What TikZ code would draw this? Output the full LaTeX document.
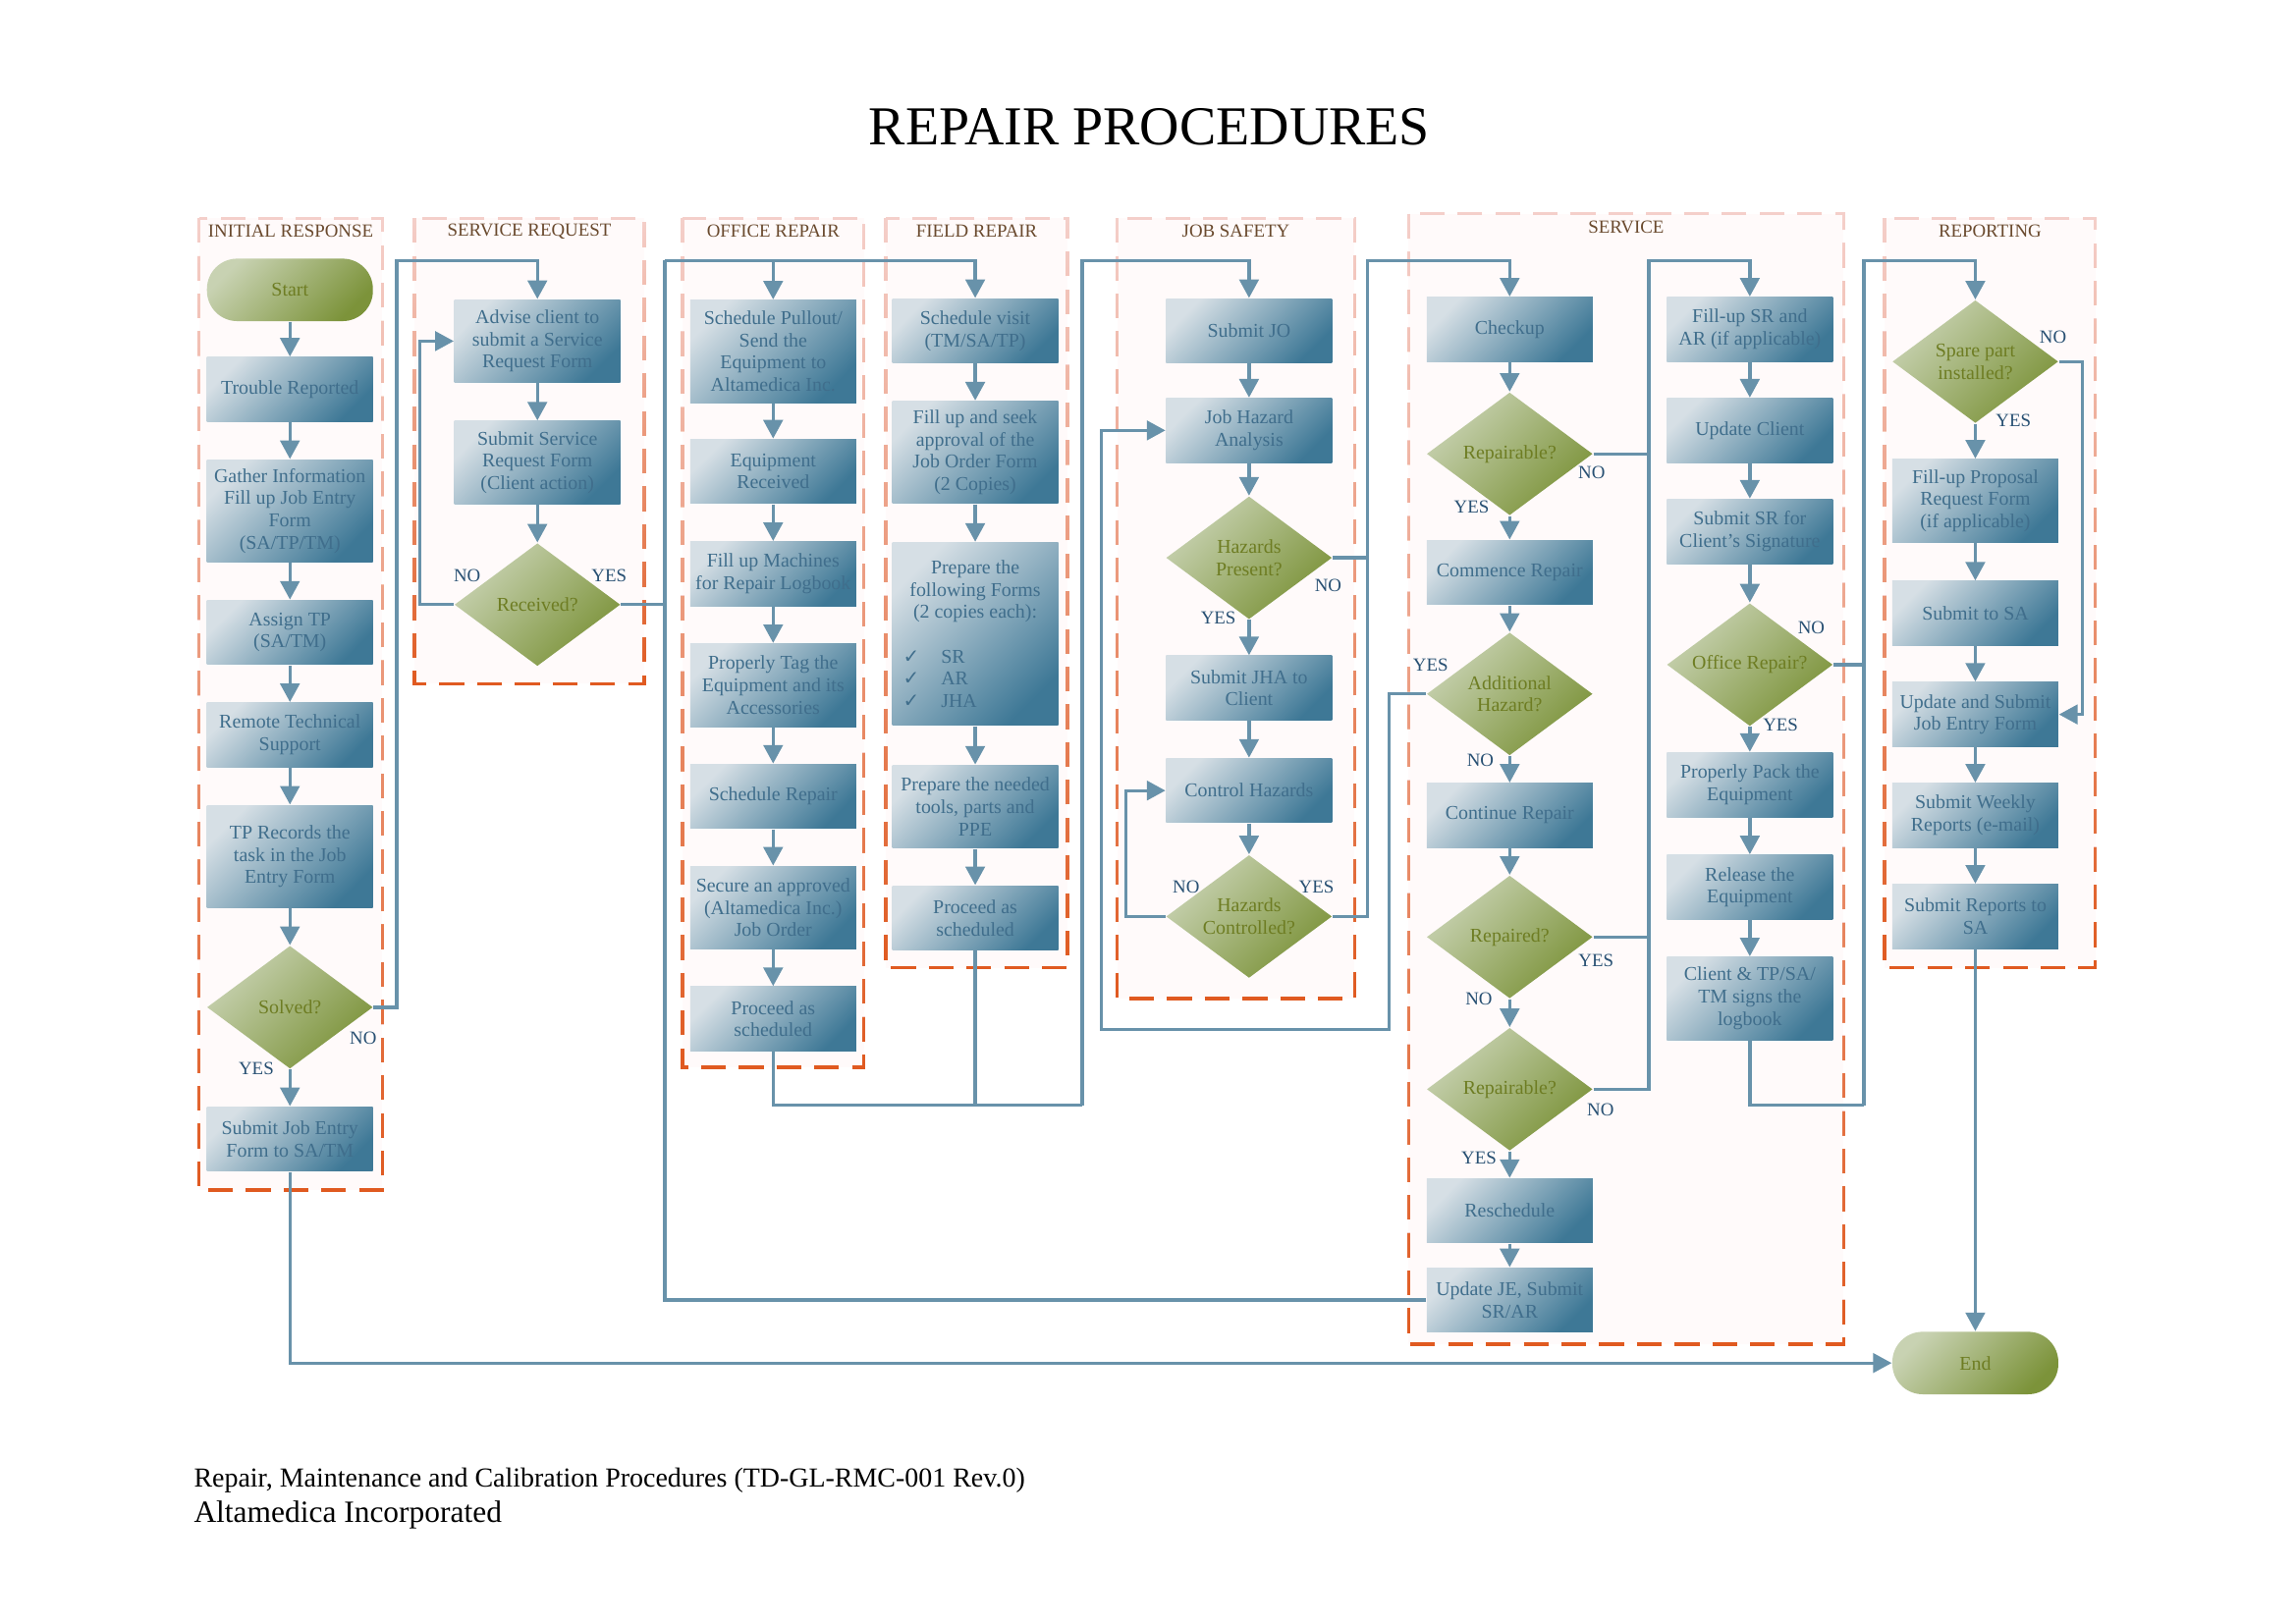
\documentclass[tikz,border=0pt]{standalone}
\usepackage{fontspec}
\setmainfont{Liberation Serif}
\newfontfamily\symfont{DejaVu Sans}
\usetikzlibrary{shapes.geometric,arrows.meta,fadings}

\definecolor{boxlight}{HTML}{D6DFE5}
\definecolor{boxdark}{HTML}{3E7896}
\definecolor{boxtext}{HTML}{406E8C}
\definecolor{diamlight}{HTML}{C8D2B2}
\definecolor{diamdark}{HTML}{7C933A}
\definecolor{diamtext}{HTML}{6E7D23}
\definecolor{linecol}{HTML}{6892AA}
\definecolor{lbltext}{HTML}{285073}
\definecolor{titletext}{HTML}{6A4A2E}
\definecolor{lanefill}{HTML}{FFFAFA}
\definecolor{lanepink}{HTML}{F5D0CB}
\definecolor{laneorange}{HTML}{E05A20}

\tikzfading[name=lanefade, top color=transparent!100, middle color=transparent!65, bottom color=transparent!0]

% check bullet for the forms list
\newcommand{\chk}[1]{\makebox[1.6cm][l]{\hspace{0.06cm}\makebox[0.39cm][l]{{\symfont ✓}}#1}}

\begin{document}
\begin{tikzpicture}[x=0.015cm, y=-0.015cm,
  txt/.style={font=\fontsize{5.7}{6.5}\selectfont, align=center},
  box/.style={txt, rectangle, top color=boxlight, bottom color=boxdark, shading angle=45, text=boxtext, minimum width=1.7cm, minimum height=0.66cm, inner sep=1pt},
  box3/.style={box, minimum height=0.85cm},
  box4/.style={box, minimum height=1.05cm},
  dec/.style={txt, diamond, aspect=1.35, top color=diamlight, bottom color=diamdark, shading angle=45, text=diamtext, minimum width=1.7cm, minimum height=1.26cm, inner sep=0pt},
  term/.style={txt, rectangle, rounded corners=0.31cm, top color=diamlight, bottom color=diamdark, shading angle=45, text=diamtext, minimum width=1.7cm, minimum height=0.64cm},
  wire/.style={draw=linecol, line width=0.95pt},
  arr/.style={wire, -{Triangle[width=5.6pt,length=5.4pt]}},
  lbl/.style={font=\fontsize{5.4}{6}\selectfont, text=lbltext, inner sep=0pt},
  lanetitle/.style={font=\fontsize{5.4}{6}\selectfont, text=titletext, inner sep=0pt},
  lanedash/.style={line width=0.95pt, dash pattern=on 7.2pt off 3.8pt}
]
\useasboundingbox (0,0) rectangle (1568,1109);
\fill[white] (0,0) rectangle (1568,1109);

\node[anchor=base, font=\fontsize{16}{19}\selectfont] (title) at (785,99) {REPAIR PROCEDURES};

% lanes
\foreach \xa/\ya/\xb/\yb/\ttl [count=\k] in {136/149/261/813/INITIAL RESPONSE, 283/149/440/467/SERVICE REQUEST, 466/149/590/729/OFFICE REPAIR, 605/149/729/661/FIELD REPAIR, 763/149/925/682/JOB SAFETY, 962/146/1259/918/SERVICE, 1287/149/1431/661/REPORTING}{%
  \fill[lanefill] (\xa,\ya) rectangle (\xb,\yb);
  \draw[lanepink, lanedash] (\xa,\ya) rectangle (\xb,\yb);
  \draw[laneorange, lanedash, path fading=lanefade] (\xa,\ya) rectangle (\xb,\yb);
  \node[lanetitle] (lane\k) at ({(\xa+\xb)/2},\ya+9) {\ttl};
}

% initial response
\node[term] (start) at (198,198) {Start};
\node[box] (trouble) at (198,266) {Trouble Reported};
\node[box4] (gather) at (198,349) {Gather Information\\Fill up Job Entry\\Form\\(SA/TP/TM)};
\node[box] (assign) at (198,432) {Assign TP\\(SA/TM)};
\node[box] (remote) at (198,502) {Remote Technical\\Support};
\node[box4] (records) at (198,585) {TP Records the\\task in the Job\\Entry Form};
\node[dec] (solved) at (198,688) {Solved?};
\node[box] (submitje) at (198,778) {Submit Job Entry\\Form to SA/TM};

% service request
\node[box3] (advise) at (367,233) {Advise client to\\submit a Service\\Request Form};
\node[box3] (submitsrf) at (367,316) {Submit Service\\Request Form\\(Client action)};
\node[dec] (received) at (367,413) {Received?};

% office repair
\node[box4] (pullout) at (528,240) {Schedule Pullout/\\Send the\\Equipment to\\Altamedica Inc.};
\node[box] (eqrec) at (528,322) {Equipment\\Received};
\node[box] (logbook) at (528,392) {Fill up Machines\\for Repair Logbook};
\node[box3] (tag) at (528,468) {Properly Tag the\\Equipment and its\\Accessories};
\node[box] (schedrep) at (528,544) {Schedule Repair};
\node[box3] (secure) at (528,620) {Secure an approved\\(Altamedica Inc.)\\Job Order};
\node[box] (oproceed) at (528,696) {Proceed as\\scheduled};

% field repair
\node[box] (visit) at (666,226) {Schedule visit\\(TM/SA/TP)};
\node[box4] (approval) at (666,309) {Fill up and seek\\approval of the\\Job Order Form\\(2 Copies)};
\node[box, minimum height=1.875cm] (forms) at (666,433) {Prepare the\\following Forms\\(2 copies each):\\[6.5pt]\chk{SR}\\\chk{AR}\\\chk{JHA}};
\node[box3] (tools) at (666,551) {Prepare the needed\\tools, parts and\\PPE};
\node[box] (fproceed) at (666,627) {Proceed as\\scheduled};

% job safety
\node[box] (submitjo) at (853,226) {Submit JO};
\node[box] (jha) at (853,294) {Job Hazard\\Analysis};
\node[dec] (present) at (853,381) {Hazards\\Present?};
\node[box] (jhaclient) at (853,470) {Submit JHA to\\Client};
\node[box] (control) at (853,540) {Control Hazards};
\node[dec] (controlled) at (853,626) {Hazards\\Controlled?};

% service
\node[box] (checkup) at (1031,225) {Checkup};
\node[dec] (repairable) at (1031,310) {Repairable?};
\node[box] (commence) at (1031,391) {Commence Repair};
\node[dec] (addhaz) at (1031,474) {Additional\\Hazard?};
\node[box] (continue) at (1031,557) {Continue Repair};
\node[dec] (repaired) at (1031,640) {Repaired?};
\node[dec] (repairable2) at (1031,744) {Repairable?};
\node[box] (resched) at (1031,827) {Reschedule};
\node[box] (updje) at (1031,888) {Update JE, Submit\\SR/AR};

\node[box] (fillsr) at (1195,225) {Fill-up SR and\\AR (if applicable)};
\node[box] (updclient) at (1195,294) {Update Client};
\node[box] (submitsr) at (1195,363) {Submit SR for\\Client’s Signature};
\node[dec] (officerep) at (1195,454) {Office Repair?};
\node[box] (pack) at (1195,536) {Properly Pack the\\Equipment};
\node[box] (release) at (1195,606) {Release the\\Equipment};
\node[box3] (signs) at (1195,682) {Client \& TP/SA/\\TM signs the\\logbook};

% reporting
\node[dec] (spare) at (1349,247) {Spare part\\installed?};
\node[box3] (proposal) at (1349,342) {Fill-up Proposal\\Request Form\\(if applicable)};
\node[box] (submitsa) at (1349,419) {Submit to SA};
\node[box] (updsubmit) at (1349,488) {Update and Submit\\Job Entry Form};
\node[box] (weekly) at (1349,557) {Submit Weekly\\Reports (e-mail)};
\node[box] (reportssa) at (1349,626) {Submit Reports to\\SA};
\node[term] (finish) at (1349,931) {End};

% straight arrows down each column
\foreach \a/\b in {start/trouble, trouble/gather, gather/assign, assign/remote, remote/records, records/solved, solved/submitje,
    advise/submitsrf, submitsrf/received,
    pullout/eqrec, eqrec/logbook, logbook/tag, tag/schedrep, schedrep/secure, secure/oproceed,
    visit/approval, approval/forms, forms/tools, tools/fproceed,
    submitjo/jha, jha/present, present/jhaclient, jhaclient/control, control/controlled,
    checkup/repairable, repairable/commence, commence/addhaz, addhaz/continue, continue/repaired, repaired/repairable2, repairable2/resched, resched/updje,
    fillsr/updclient, updclient/submitsr, submitsr/officerep, officerep/pack, pack/release, release/signs,
    spare/proposal, proposal/submitsa, submitsa/updsubmit, updsubmit/weekly, weekly/reportssa, reportssa/finish}
  \draw[arr] (\a) -- (\b);

% bus lines
\coordinate (busA) at (271,178);
\coordinate (busB) at (454,178);
\coordinate (busC) at (739,178);
\coordinate (busD) at (934,178);
\coordinate (busE) at (1126,178);
\coordinate (busF) at (1273,178);
\coordinate (joinC) at (739,755);
\coordinate (joinF) at (1273,755);
\coordinate (hazloop) at (752,703);

\draw[arr] (solved.east) -| (busA) -| (advise.north);
\draw[arr] (received.west) -- ++(-23,0) |- (advise.west);
\draw[wire] (received.east) -- (received.east -| busB);
\draw[wire] (updje.west) -| (busB);
\draw[arr] (busB) -| (pullout.north);
\draw[arr] (busB) -| (visit.north);
\draw[wire] (oproceed.south) |- (joinC);
\draw[wire] (fproceed.south) |- (joinC);
\draw[arr] (joinC) -- (busC) -| (submitjo.north);
\draw[wire] (present.east) -- (present.east -| busD);
\draw[arr] (controlled.east) -| (busD) -| (checkup.north);
\draw[arr] (controlled.west) -- ++(-27,0) |- (control.west);
\draw[arr] (addhaz.west) -- ++(-25,0) |- (hazloop) |- (jha.west);
\draw[wire] (repairable.east) -- (repairable.east -| busE);
\draw[wire] (repaired.east) -- (repaired.east -| busE);
\draw[arr] (repairable2.east) -| (busE) -| (fillsr.north);
\draw[wire] (officerep.east) -- (officerep.east -| busF);
\draw[wire] (signs.south) |- (joinF);
\draw[arr] (joinF) -- (busF) -| (spare.north);
\draw[arr] (spare.east) -- ++(16,0) |- (updsubmit.east);
\draw[arr] (submitje.south) |- (finish.west);

% yes / no
\foreach \n/\x/\y/\t in {solvedno/248/709/NO, solvedyes/175/730/YES, receivedno/319/393/NO, receivedyes/416/393/YES,
    presentno/907/400/NO, presentyes/832/422/YES, controlledno/810/606/NO, controlledyes/899/606/YES,
    repairableno/1087/323/NO, repairableyes/1005/346/YES, addhazyes/977/454/YES, addhazno/1011/519/NO,
    repairedyes/1090/656/YES, repairedno/1010/682/NO, repairabletwono/1093/758/NO, repairabletwoyes/1010/791/YES,
    officerepno/1237/429/NO, officerepyes/1216/495/YES, spareno/1402/230/NO, spareyes/1375/287/YES}
  \node[lbl] (\n) at (\x,\y) {\t};

\node[anchor=base west, font=\fontsize{8}{10}\selectfont, inner sep=0pt] (footer1) at (132,1016) {Repair, Maintenance and Calibration Procedures (TD-GL-RMC-001 Rev.0)};
\node[anchor=base west, font=\fontsize{9}{11}\selectfont, inner sep=0pt] (footer2) at (132,1040) {Altamedica Incorporated};
\end{tikzpicture}
\end{document}
